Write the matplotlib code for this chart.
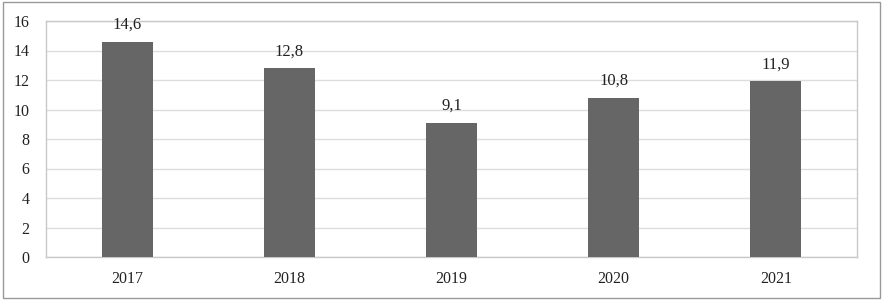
import matplotlib.pyplot as plt
from matplotlib.patches import Rectangle

years = ['2017', '2018', '2019', '2020', '2021']
values = [14.6, 12.8, 9.1, 10.8, 11.9]
value_labels = ['14,6', '12,8', '9,1', '10,8', '11,9']

plt.rcParams['font.family'] = ['Liberation Serif', 'DejaVu Serif']

fig = plt.figure(figsize=(8.85, 3.08), dpi=100)
ax = fig.add_axes([46 / 885, 1 - 257 / 308, 811 / 885, 236 / 308])

x = range(len(years))
bars = ax.bar(x, values, width=0.315, color='#666666', zorder=3)
for b, lab in zip(bars, value_labels):
    ax.text(b.get_x() + b.get_width() / 2, b.get_height() + 0.6, lab,
            ha='center', va='bottom', fontsize=12, color='#222222')

ax.set_xlim(-0.5, len(years) - 0.5)
ax.set_ylim(0, 16)
ax.set_yticks(range(0, 17, 2))
ax.set_xticks(list(x))
ax.set_xticklabels(years)
ax.tick_params(axis='both', length=0, labelsize=11.5, colors='#222222')
ax.tick_params(axis='x', pad=10)
ax.tick_params(axis='y', pad=12)
ax.grid(axis='y', color='#dddddd', linewidth=1, zorder=0)
for s in ax.spines.values():
    s.set_color('#c8c8c8')
    s.set_linewidth(1)

fig.patches.append(Rectangle((3 / 885, 1 - 298 / 308), 877 / 885, 296 / 308,
                             transform=fig.transFigure, fill=False,
                             edgecolor='#999999', linewidth=1))

fig.savefig('out.png', dpi=100)
